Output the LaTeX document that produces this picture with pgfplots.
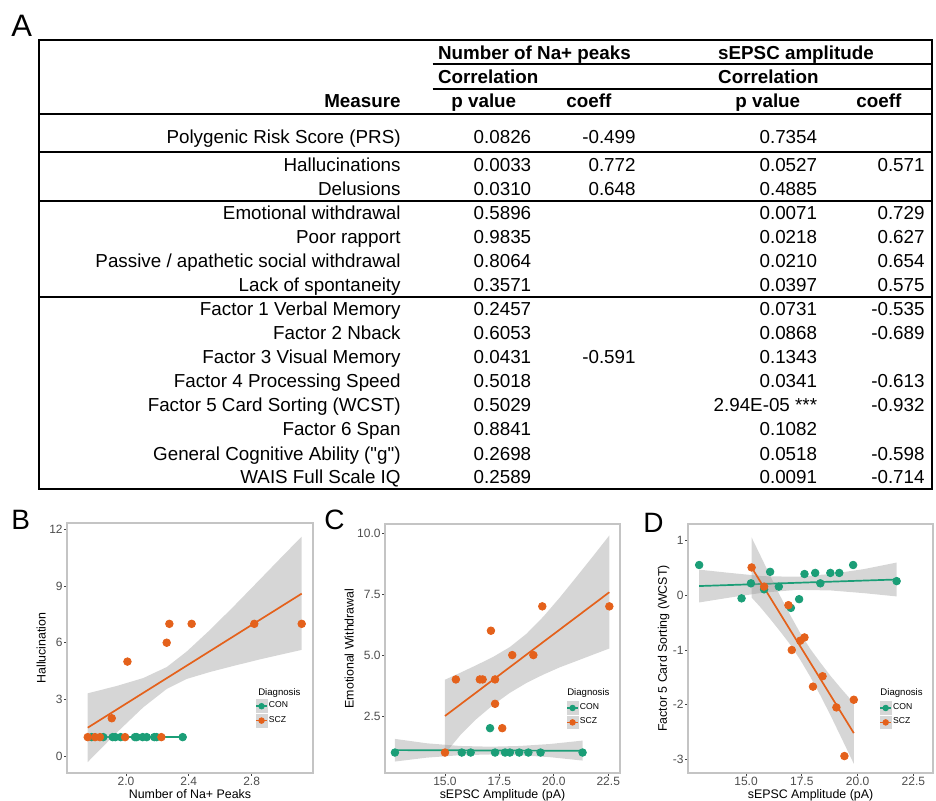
\documentclass[border=0pt]{standalone}
\usepackage{fontspec}
\setmainfont{Liberation Sans}[Ligatures=TeXOff]
\usepackage{pgfplots}
\pgfplotsset{compat=1.18}

\definecolor{con}{HTML}{1B9E77}
\definecolor{scz}{HTML}{E4611B}
\definecolor{border}{HTML}{C4C4C4}
\definecolor{ticktext}{HTML}{4D4D4D}

\pgfplotsset{
  panel/.style={
    scale only axis, anchor=north west,
    axis line style={border, line width=0.8pt},
    tick align=outside, major tick length=1.3pt,
    xtick pos=bottom, ytick pos=left,
    tick style={black!75, line width=0.4pt},
    ticklabel style={font=\fontsize{6}{6.5}\selectfont, text=ticktext, inner sep=0.7pt},
    /pgf/number format/assume math mode=true,
    xlabel near ticks, ylabel near ticks,
    label style={font=\fontsize{6.2}{7}\selectfont, inner sep=0.8pt},
    legend cell align=left,
    legend style={draw=none, fill=none, inner sep=0pt, anchor=north west,
      font=\fontsize{4.3}{4.8}\selectfont, row sep=0.4pt,
      nodes={inner sep=0.6pt}},
  },
  pts/.style={only marks, mark=*, mark size=1.9pt, forget plot},
  band/.style={fill=black!40, fill opacity=0.4, draw=none, forget plot},
  fit/.style={line width=0.85pt, forget plot},
  conkey/.style={legend image code/.code={
    \fill[black!16] (0pt,-3.2pt) rectangle (5.4pt,3.2pt);
    \draw[con,line width=0.8pt] (0pt,0pt) -- (5.4pt,0pt);
    \fill[con] (2.7pt,0pt) circle (1.4pt);}},
  sczkey/.style={legend image code/.code={
    \fill[black!16] (0pt,-3.2pt) rectangle (5.4pt,3.2pt);
    \draw[scz,line width=0.8pt] (0pt,0pt) -- (5.4pt,0pt);
    \fill[scz] (2.7pt,0pt) circle (1.4pt);}},
}

\newcommand\trow[6]{%
  \node[anchor=base east] at (401,#1) {#2};
  \node[anchor=base east] at (531.6,#1) {#3};
  \node[anchor=base east] at (636,#1) {#4};
  \node[anchor=base east] at (817.5,#1) {#5};
  \node[anchor=base east] at (925,#1) {#6};}

\begin{document}
\begin{tikzpicture}
\useasboundingbox (0,0) rectangle (468pt,-400.5pt);

% ---- panel A: table
\begin{scope}[x=0.5pt,y=-0.5pt,every node/.style={inner sep=0pt,font=\fontsize{9.4}{11}\selectfont}]
\node[anchor=base west,font=\fontsize{15.5}{16}\selectfont] at (11,37) {A};
\draw[line width=0.9pt] (39.3,40) rectangle (932,489);
\draw[line width=0.9pt] (432.5,64)--(932,64) (432.5,89)--(932,89)
  (39.3,114)--(932,114) (39.3,152)--(932,152) (39.3,201)--(932,201) (39.3,297)--(932,297);
\begin{scope}[every node/.style={inner sep=0pt,font=\fontsize{9.4}{11}\selectfont\bfseries}]
\node[anchor=base west] at (437.6,60) {Number of Na+ peaks};
\node[anchor=base west] at (717.8,60) {sEPSC amplitude};
\node[anchor=base west] at (437.6,84) {Correlation};
\node[anchor=base west] at (717.8,84) {Correlation};
\node[anchor=base east] at (401,108) {Measure};
\node[anchor=base west] at (451,108) {p value};
\node[anchor=base west] at (566,108) {coeff};
\node[anchor=base west] at (735,108) {p value};
\node[anchor=base west] at (856,108) {coeff};
\end{scope}
\trow{144}{Polygenic Risk Score (PRS)}{0.0826}{-0.499}{0.7354}{}
\trow{172}{Hallucinations}{0.0033}{0.772}{0.0527}{0.571}
\trow{196}{Delusions}{0.0310}{0.648}{0.4885}{}
\trow{220}{Emotional withdrawal}{0.5896}{}{0.0071}{0.729}
\trow{244}{Poor rapport}{0.9835}{}{0.0218}{0.627}
\trow{268}{Passive / apathetic social withdrawal}{0.8064}{}{0.0210}{0.654}
\trow{292}{Lack of spontaneity}{0.3571}{}{0.0397}{0.575}
\trow{316}{Factor 1 Verbal Memory}{0.2457}{}{0.0731}{-0.535}
\trow{340}{Factor 2 Nback}{0.6053}{}{0.0868}{-0.689}
\trow{364}{Factor 3 Visual Memory}{0.0431}{-0.591}{0.1343}{}
\trow{388}{Factor 4 Processing Speed}{0.5018}{}{0.0341}{-0.613}
\trow{412}{Factor 5 Card Sorting (WCST)}{0.5029}{}{2.94E-05 ***}{-0.932}
\trow{436}{Factor 6 Span}{0.8841}{}{0.1082}{}
\trow{460}{General Cognitive Ability ("g")}{0.2698}{}{0.0518}{-0.598}
\trow{484}{WAIS Full Scale IQ}{0.2589}{}{0.0091}{-0.714}
\node[anchor=base west,font=\fontsize{14}{15}\selectfont] at (11,530) {B};
\node[anchor=base west,font=\fontsize{14}{15}\selectfont] at (324,530) {C};
\node[anchor=base west,font=\fontsize{14}{15}\selectfont] at (643,532) {D};
\end{scope}

% ---- panel B
\begin{axis}[panel, at={(33.5pt,-261.5pt)}, width=123pt, height=125pt,
  xmin=1.624, xmax=3.191, ymin=-0.90, ymax=12.34,
  xtick={2.0,2.4,2.8}, ytick={0,3,6,9,12},
  xticklabel style={/pgf/number format/.cd, fixed, fixed zerofill, precision=1},
  xlabel={Number of Na+ Peaks}, ylabel={Hallucination},
  legend style={at={(0.764,0.296)}}]
\addplot[pts, con] coordinates {(1.781,1) (1.855,1) (1.915,1) (1.932,1) (1.966,1) (2.057,1)
  (2.068,1) (2.106,1) (2.132,1) (2.180,1) (2.195,1) (2.361,1)};
\addplot[pts, scz] coordinates {(1.756,1) (1.803,1) (1.834,1) (1.909,2) (1.994,1) (2.009,5)
  (2.225,1) (2.259,6) (2.276,7) (2.418,7) (2.817,7) (3.119,7)};
\addplot[fit, con, line width=1.1pt] coordinates {(1.76,1) (2.361,1)};
\addplot[band] coordinates {(1.756,3.32) (1.941,3.71) (2.110,4.13) (2.259,4.71) (2.386,5.53)
  (2.535,6.68) (2.684,7.91) (2.854,9.36) (3.002,10.63) (3.119,11.62)
  (3.119,5.62) (3.002,5.40) (2.854,5.12) (2.684,4.77) (2.535,4.45) (2.386,4.08)
  (2.259,3.55) (2.110,2.58) (1.941,1.24) (1.756,-0.32)};
\addplot[fit, scz] coordinates {(1.756,1.5) (3.119,8.6)};
\node[anchor=west, inner sep=0pt, font=\fontsize{4.8}{5}\selectfont] at (rel axis cs:0.776,0.318) {Diagnosis};
\addlegendimage{conkey}\addlegendentry{CON}
\addlegendimage{sczkey}\addlegendentry{SCZ}
\end{axis}

% ---- panel C
\begin{axis}[panel, at={(192.5pt,-262pt)}, width=117.5pt, height=124.5pt,
  xmin=12.244, xmax=23.04, ymin=0.16, ymax=10.38,
  xtick={15,17.5,20,22.5}, ytick={2.5,5,7.5,10},
  ticklabel style={/pgf/number format/.cd, fixed, fixed zerofill, precision=1},
  xlabel={sEPSC Amplitude (pA)}, ylabel={Emotional Withdrawal},
  legend style={at={(0.770,0.290)}}]
\addplot[pts, con] coordinates {(12.70,1) (15.77,1) (16.18,1) (17.3,1) (17.76,1) (17.98,1)
  (18.41,1) (18.83,1) (19.39,1) (21.32,1) (17.07,2)};
\addplot[pts, scz] coordinates {(15.0,1) (15.5,4) (16.6,4) (16.73,4) (17.3,4) (17.11,6)
  (17.3,3) (17.63,2) (18.09,5) (19.06,5) (19.47,7) (22.55,7)};
\addplot[band] coordinates {(12.70,1.56) (14.16,1.38) (15.69,1.27) (17.07,1.24) (18.44,1.27)
  (19.82,1.35) (21.32,1.49) (21.32,0.67) (19.82,0.81) (18.44,0.89) (17.07,0.92)
  (15.69,0.89) (14.16,0.79) (12.70,0.63)};
\addplot[fit, con] coordinates {(12.70,1.10) (21.32,1.07)};
\addplot[band] coordinates {(15.0,3.99) (15.69,4.27) (16.45,4.59) (17.22,4.93) (17.98,5.33)
  (18.75,5.88) (19.52,6.58) (20.28,7.37) (21.05,8.22) (21.81,9.07) (22.55,9.91)
  (22.55,5.27) (21.81,5.02) (21.05,4.76) (20.28,4.50) (19.52,4.20) (18.75,3.86)
  (17.98,3.45) (17.22,2.96) (16.45,2.38) (15.69,1.70) (15.0,0.95)};
\addplot[fit, scz] coordinates {(15.0,2.5) (22.55,7.58)};
\node[anchor=west, inner sep=0pt, font=\fontsize{4.8}{5}\selectfont] at (rel axis cs:0.774,0.322) {Diagnosis};
\addlegendimage{conkey}\addlegendentry{CON}
\addlegendimage{sczkey}\addlegendentry{SCZ}
\end{axis}

% ---- panel D
\begin{axis}[panel, at={(344pt,-262pt)}, width=122.5pt, height=124.5pt,
  xmin=12.40, xmax=23.38, ymin=-3.25, ymax=1.305,
  xtick={15,17.5,20,22.5}, ytick={-3,-2,-1,0,1},
  xticklabel style={/pgf/number format/.cd, fixed, fixed zerofill, precision=1},
  xlabel={sEPSC Amplitude (pA)}, ylabel={Factor 5 Card Sorting (WCST)},
  legend style={at={(0.780,0.290)}}]
\addplot[pts, con] coordinates {(12.90,0.555) (15.22,0.22) (14.80,-0.055) (15.81,0.11)
  (16.08,0.43) (16.47,0.16) (17.01,-0.23) (17.38,-0.07) (17.62,0.39) (18.10,0.41)
  (18.33,0.22) (18.78,0.41) (19.18,0.41) (19.80,0.555) (21.75,0.26)};
\addplot[pts, scz] coordinates {(15.25,0.51) (15.81,0.16) (16.90,-0.18) (17.05,-1.0)
  (17.43,-0.83) (17.62,-0.77) (18.0,-1.67) (18.43,-1.48) (19.05,-2.05) (19.41,-2.94)
  (19.83,-1.91)};
\addplot[band] coordinates {(12.90,0.47) (14.28,0.41) (15.78,0.35) (17.28,0.34) (18.78,0.39)
  (20.28,0.48) (21.75,0.60) (21.75,-0.02) (20.28,0.04) (18.78,0.09) (17.28,0.10)
  (15.78,0.05) (14.28,-0.04) (12.90,-0.13)};
\addplot[fit, con] coordinates {(12.90,0.17) (21.75,0.29)};
\addplot[band] coordinates {(15.25,1.06) (15.63,0.74) (16.08,0.36) (16.53,-0.01) (16.98,-0.36)
  (17.43,-0.69) (17.88,-0.98) (18.33,-1.23) (18.78,-1.47) (19.23,-1.69) (19.83,-1.97)
  (19.83,-3.08) (19.23,-2.57) (18.78,-2.19) (18.33,-1.83) (17.88,-1.49) (17.43,-1.18)
  (16.98,-0.90) (16.53,-0.66) (16.08,-0.43) (15.63,-0.21) (15.25,-0.04)};
\addplot[fit, scz] coordinates {(15.25,0.51) (19.83,-2.52)};
\node[anchor=west, inner sep=0pt, font=\fontsize{4.8}{5}\selectfont] at (rel axis cs:0.784,0.323) {Diagnosis};
\addlegendimage{conkey}\addlegendentry{CON}
\addlegendimage{sczkey}\addlegendentry{SCZ}
\end{axis}
\end{tikzpicture}
\end{document}
